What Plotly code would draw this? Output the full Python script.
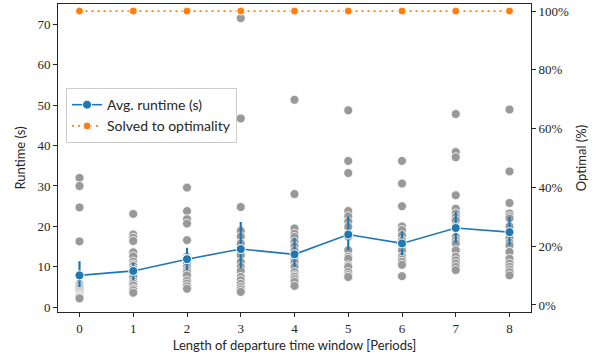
import plotly.graph_objects as go

windows = [0, 1, 2, 3, 4, 5, 6, 7, 8]

runtimes = {
    0: [32.0, 30.0, 24.7, 16.3, 5.8, 5.4, 5.0, 4.6, 4.2, 3.8, 3.5, 3.2, 3.0, 2.8, 2.6, 2.4, 2.2],
    1: [23.1, 18.0, 17.2, 16.4, 13.6, 12.6, 11.3, 10.6, 10.2, 9.5, 8.6, 7.5, 6.4, 5.9, 5.4, 4.6, 4.2, 3.6],
    2: [29.6, 23.8, 21.8, 20.7, 16.6, 12.5, 12.1, 11.3, 10.8, 10.0, 9.2, 8.6, 7.9, 6.6, 5.9, 5.2, 4.6],
    3: [71.5, 46.7, 24.8, 18.9, 17.5, 15.8, 14.0, 12.9, 11.2, 10.0, 9.0, 7.5, 6.7, 5.8, 5.0, 4.4, 3.8],
    4: [51.3, 28.0, 19.5, 18.2, 17.4, 16.2, 15.1, 14.0, 12.0, 11.2, 10.0, 8.7, 7.9, 7.5, 6.9, 6.3, 5.3],
    5: [48.7, 36.2, 33.2, 23.8, 22.5, 21.2, 19.9, 17.5, 14.1, 12.5, 12.0, 10.4, 10.0, 8.7, 8.0, 7.5],
    6: [36.2, 30.6, 25.0, 20.0, 19.1, 17.8, 16.5, 15.0, 14.1, 12.5, 11.8, 11.2, 10.5, 7.7],
    7: [47.8, 38.4, 37.1, 27.7, 24.4, 23.2, 22.3, 21.5, 20.0, 17.4, 16.5, 15.8, 14.1, 12.5, 11.6, 10.8, 10.0, 9.2],
    8: [48.9, 33.6, 25.8, 23.2, 22.5, 22.0, 20.0, 17.0, 16.0, 15.3, 13.7, 12.0, 10.8, 10.0, 9.3, 8.7, 7.9],
}

avg_runtime = [7.9, 9.0, 11.9, 14.4, 13.1, 18.0, 15.8, 19.6, 18.6]
ci_low = [5.0, 6.7, 9.2, 9.7, 10.0, 14.1, 12.9, 15.9, 15.3]
ci_high = [11.4, 11.0, 14.7, 21.1, 17.2, 22.5, 18.8, 23.6, 22.4]
optimal_pct = [100, 100, 100, 100, 100, 100, 100, 100, 100]

y_ticks = [0, 10, 20, 30, 40, 50, 60, 70]
pct_ticks = [0, 20, 40, 60, 80, 100]

dot_x, dot_y = [], []
for w in windows:
    for v in runtimes[w]:
        dot_x.append(w)
        dot_y.append(v)

SANS = "Lato"
SERIF = "Liberation Serif, serif"
AX = "#262626"

fig = go.Figure()
fig.add_trace(go.Scatter(
    x=dot_x, y=dot_y, mode="markers", showlegend=False,
    marker=dict(size=9, color="#999999", line=dict(color="white", width=0.8)),
    hoverinfo="skip",
))
fig.add_trace(go.Scatter(
    x=windows, y=avg_runtime, mode="lines+markers", name="Avg. runtime (s)",
    line=dict(color="#1f77b4", width=1.6),
    marker=dict(size=9, color="#1f77b4", line=dict(color="white", width=1)),
    error_y=dict(type="data", symmetric=False,
                 array=[h - m for h, m in zip(ci_high, avg_runtime)],
                 arrayminus=[m - l for m, l in zip(avg_runtime, ci_low)],
                 color="#1f77b4", thickness=2.2, width=0),
))
fig.add_trace(go.Scatter(
    x=windows, y=optimal_pct, mode="lines+markers", name="Solved to optimality",
    yaxis="y2",
    line=dict(color="#ff7f0e", width=1.8, dash="2px,4px"),
    marker=dict(size=8, color="#ff7f0e", line=dict(color="white", width=1)),
))

fig.update_layout(
    width=603, height=358,
    margin=dict(l=58, r=72, t=4, b=46),
    paper_bgcolor="white", plot_bgcolor="white",
    font=dict(family=SANS, size=13, color=AX),
    xaxis=dict(
        range=[-0.4, 8.4], tickvals=windows, ticktext=[str(w) for w in windows],
        showgrid=False, zeroline=False,
        showline=True, linecolor=AX, linewidth=1, mirror=True,
        ticks="outside", ticklen=4, tickcolor=AX, tickwidth=1,
        tickfont=dict(family=SERIF, size=13, color=AX),
        title=dict(text="Length of departure time window [Periods]",
                   font=dict(family=SANS, size=13, color=AX), standoff=6),
    ),
    yaxis=dict(
        range=[-1.16, 75], tickvals=y_ticks, ticktext=[str(t) for t in y_ticks],
        showgrid=False, zeroline=False,
        showline=True, linecolor=AX, linewidth=1,
        ticks="outside", ticklen=4, tickcolor=AX, tickwidth=1,
        tickfont=dict(family=SERIF, size=13, color=AX),
        title=dict(text="Runtime (s)", font=dict(family=SANS, size=13, color=AX), standoff=8),
    ),
    yaxis2=dict(
        overlaying="y", side="right",
        range=[-2.4, 102.4], tickvals=pct_ticks, ticktext=[f"{t}%" for t in pct_ticks],
        showgrid=False, zeroline=False,
        showline=True, linecolor=AX, linewidth=1,
        ticks="outside", ticklen=4, tickcolor=AX, tickwidth=1,
        tickfont=dict(family=SERIF, size=13, color=AX),
        title=dict(text="Optimal (%)", font=dict(family=SANS, size=13, color=AX), standoff=8),
    ),
    legend=dict(
        x=0.017, y=0.727, xanchor="left", yanchor="top",
        bgcolor="rgba(255,255,255,0.85)", bordercolor="#cccccc", borderwidth=1,
        font=dict(family=SANS, size=14, color=AX),
        tracegroupgap=0, itemwidth=30,
    ),
    showlegend=True,
)

fig.write_html("out.html")
